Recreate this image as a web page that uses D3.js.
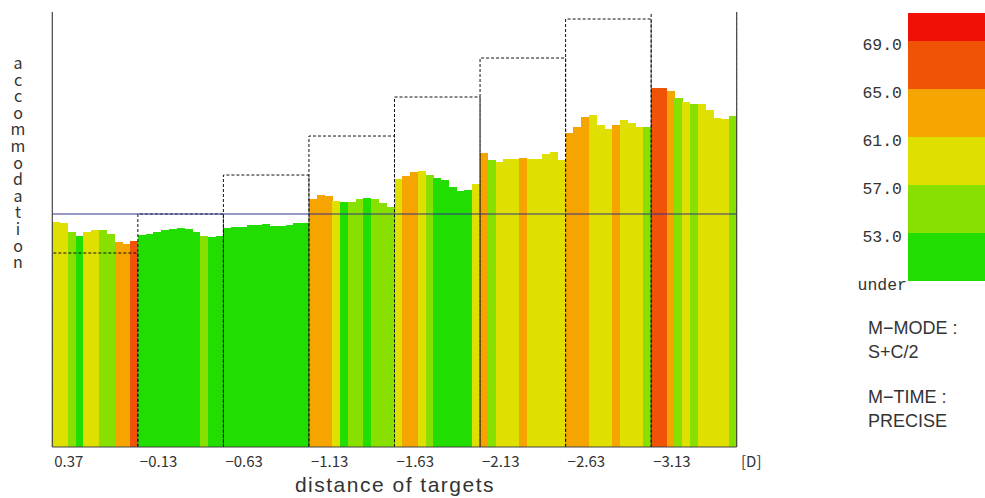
<!DOCTYPE html>
<html>
<head>
<meta charset="utf-8">
<script src="https://cdn.jsdelivr.net/npm/d3@7"></script>
<style>
  html, body { margin: 0; padding: 0; background: #ffffff; }
  svg { display: block; }
  text { font-family: "Noto Sans CJK JP", "DejaVu Sans", sans-serif; fill: #333; }
  .mono { font-family: "Liberation Mono", "DejaVu Sans Mono", monospace; }
  .plain { font-family: "Liberation Sans", Arial, sans-serif; }
  .upright { writing-mode: vertical-rl; text-orientation: upright; }
</style>
</head>
<body>
<svg id="chart" width="985" height="498"></svg>
<script>
// Target distances [D], one measurement segment per target
const targets = [0.37, -0.13, -0.63, -1.13, -1.63, -2.13, -2.63, -3.13];
const tickLabels = ["0.37", "\u22120.13", "\u22120.63", "\u22121.13", "\u22121.63", "\u22122.13", "\u22122.63", "\u22123.13"];

// Accommodation response [D] per sample, 11 samples per target
const accommodation = [
  -0.03, -0.02, 0.10, 0.15, 0.10, 0.07, 0.08, 0.13, 0.23, 0.25, 0.21,
  0.14, 0.13, 0.10, 0.07, 0.06, 0.05, 0.06, 0.10, 0.15, 0.16, 0.15,
  0.05, 0.04, 0.04, 0.01, 0.01, 0.00, 0.02, 0.02, 0.01, -0.01, -0.01,
  -0.32, -0.37, -0.36, -0.30, -0.28, -0.29, -0.32, -0.34, -0.32, -0.27, -0.22,
  -0.58, -0.62, -0.67, -0.68, -0.63, -0.59, -0.56, -0.48, -0.42, -0.44, -0.52,
  -0.91, -0.82, -0.80, -0.83, -0.83, -0.85, -0.83, -0.83, -0.90, -0.92, -0.82,
  -1.17, -1.25, -1.38, -1.40, -1.27, -1.22, -1.27, -1.34, -1.30, -1.25, -1.25,
  -1.75, -1.75, -1.71, -1.62, -1.56, -1.54, -1.54, -1.46, -1.36, -1.35, -1.39
];

// High-frequency component per sample (bar colour)
const hfc = [
  59.2, 58.8, 55.4, 51.6, 59.0, 59.5, 55.8, 56.1, 63.2, 63.8, 66.4,
  50.8, 51.2, 51.5, 50.9, 51.1, 51.7, 51.3, 51.9, 55.2, 52.0, 51.4,
  51.0, 50.6, 51.2, 51.5, 50.9, 51.3, 51.8, 51.1, 50.7, 51.4, 51.6,
  63.5, 62.8, 63.1, 59.4, 52.1, 55.6, 56.0, 52.4, 55.3, 55.9, 55.1,
  59.6, 63.0, 62.7, 59.1, 55.4, 52.3, 51.9, 51.6, 51.2, 51.5, 59.3,
  63.4, 55.7, 59.0, 59.8, 59.6, 63.1, 59.4, 59.7, 59.9, 60.1, 59.3,
  63.6, 63.2, 64.0, 59.5, 60.2, 59.8, 63.3, 59.6, 60.4, 59.2, 56.2,
  66.8, 66.5, 63.7, 55.9, 59.4, 56.3, 59.2, 59.6, 59.9, 59.3, 55.7
];

// Colour legend
const legendThresholds = [53, 57, 61, 65, 69];
const legendColors = ["#22dd00", "#88e000", "#e0e000", "#f5a400", "#f05208", "#f01008"];
const legendLabels = ["53.0", "57.0", "61.0", "65.0", "69.0"];
const referenceLevel = -0.13;
const notes = [["M\u2212MODE :", "S+C/2"], ["M\u2212TIME :", "PRECISE"]];
const yTitle = "accommodation";

const svg = d3.select("#chart");
const plot = { left: 52.3, right: 736.7, top: 12, bottom: 447 };

const x = d3.scaleBand().domain(d3.range(accommodation.length)).range([plot.left, plot.right]).padding(0);
const xSeg = d3.scaleBand().domain(d3.range(targets.length)).range([plot.left, plot.right]).padding(0);
const y = d3.scaleLinear().domain([2.857, -2.72]).range([plot.bottom, plot.top]);
const color = d3.scaleThreshold().domain(legendThresholds).range(legendColors);

svg.append("defs").append("clipPath").attr("id", "plotClip")
  .append("rect")
  .attr("x", plot.left).attr("y", plot.top)
  .attr("width", plot.right - plot.left).attr("height", plot.bottom - plot.top);

// Bars
svg.append("g").attr("shape-rendering", "crispEdges")
  .selectAll("rect").data(accommodation).join("rect")
  .attr("x", (d, i) => x(i))
  .attr("width", x.bandwidth() + 0.3)
  .attr("y", d => y(d))
  .attr("height", d => plot.bottom - y(d))
  .attr("fill", (d, i) => color(hfc[i]));

// Target steps (dashed)
svg.append("g").attr("clip-path", "url(#plotClip)")
  .selectAll("path").data(targets).join("path")
  .attr("d", (t, i) => {
    const x0 = xSeg(i), x1 = x0 + xSeg.bandwidth();
    return `M${x0},${plot.bottom}V${y(t)}H${x1}V${plot.bottom}`;
  })
  .attr("fill", "none")
  .attr("stroke", "#111")
  .attr("stroke-width", 1)
  .attr("stroke-dasharray", "3,2");

// Reference level
svg.append("line")
  .attr("x1", plot.left).attr("x2", plot.right)
  .attr("y1", y(referenceLevel)).attr("y2", y(referenceLevel))
  .attr("stroke", "#30308f").attr("stroke-width", 1.2);

// Frame
const frame = svg.append("g").attr("stroke", "#444").attr("stroke-width", 1.2);
frame.append("line").attr("x1", plot.left).attr("x2", plot.left).attr("y1", plot.top).attr("y2", plot.bottom);
frame.append("line").attr("x1", plot.right).attr("x2", plot.right).attr("y1", plot.top).attr("y2", plot.bottom);
frame.append("line").attr("x1", plot.left).attr("x2", plot.right).attr("y1", plot.bottom).attr("y2", plot.bottom);

// X tick labels
svg.append("g").selectAll("text").data(tickLabels).join("text")
  .attr("x", (d, i) => xSeg(i) + 2)
  .attr("y", 467)
  .attr("font-size", 15)
  .text(d => d);
svg.append("text").attr("x", 741).attr("y", 467).attr("font-size", 15).text("[D]");

svg.append("text")
  .attr("class", "plain")
  .attr("x", 395).attr("y", 492)
  .attr("text-anchor", "middle").attr("font-size", 21)
  .attr("letter-spacing", 1.5)
  .text("distance of targets");

// Y title, letters stacked upright in vertical writing mode
svg.append("text")
  .attr("class", "upright")
  .attr("x", 18).attr("y", 55)
  .attr("font-size", 16)
  .attr("letter-spacing", 0.6)
  .attr("fill", "#444")
  .text(yTitle);

// Colour legend
const ly = d3.scaleLinear().domain([49, 71.35]).range([281, 12.7]);
const bands = legendColors.map((c, i) => ({
  c,
  lo: i === 0 ? 49 : legendThresholds[i - 1],
  hi: i === legendColors.length - 1 ? 71.35 : legendThresholds[i]
}));
svg.append("g").attr("shape-rendering", "crispEdges")
  .selectAll("rect").data(bands).join("rect")
  .attr("x", 907.5).attr("width", 78)
  .attr("y", d => ly(d.hi))
  .attr("height", d => ly(d.lo) - ly(d.hi))
  .attr("fill", d => d.c);

svg.append("g").selectAll("text").data(legendLabels).join("text")
  .attr("class", "mono")
  .attr("x", 902).attr("y", (d, i) => ly(legendThresholds[i]) + 9)
  .attr("text-anchor", "end").attr("font-size", 16.5)
  .text(d => d);
svg.append("text").attr("class", "mono").attr("x", 907).attr("y", 290)
  .attr("text-anchor", "end").attr("font-size", 16.5).text("under");

// Measurement notes
const ng = svg.append("g").attr("class", "plain").attr("font-size", 18);
notes.forEach((pair, k) => {
  pair.forEach((line, j) => {
    ng.append("text").attr("class", "plain")
      .attr("x", 868).attr("y", 334 + k * 69 + j * 24).text(line);
  });
});
</script>
</body>
</html>
